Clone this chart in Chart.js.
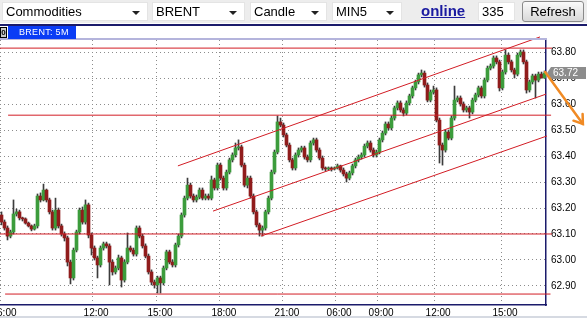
<!DOCTYPE html>
<html><head><meta charset="utf-8">
<script src="https://cdn.jsdelivr.net/npm/chart.js@4.4.1/dist/chart.umd.min.js"></script>
<style>
html,body{margin:0;padding:0;background:#fff;}
#wrap{position:relative;width:587px;height:318px;overflow:hidden;font-family:"Liberation Sans",Arial,sans-serif;}
#c{position:absolute;left:0;top:0;}
#tb{position:absolute;left:0;top:0;width:587px;height:23px;background:#ededed;}
.sel{position:absolute;top:2px;height:19px;box-sizing:border-box;background:#fff;border:1px solid #e4e4e4;font-size:13px;line-height:17px;padding-left:3px;color:#000;}
.sel i{position:absolute;right:7px;top:8px;width:0;height:0;border-left:4px solid transparent;border-right:4px solid transparent;border-top:4px solid #222;}
#online{position:absolute;left:421px;top:1px;font-size:15px;font-weight:bold;color:#1a1aa0;text-decoration:underline;line-height:19px;}
#ref{position:absolute;left:522px;top:1px;width:62px;height:21px;box-sizing:border-box;border:1px solid #8a8a8a;border-radius:3px;background:linear-gradient(#fafafa,#d8d8d8);font-size:13px;line-height:19px;text-align:center;color:#000;}
#hline{position:absolute;left:0;top:24px;width:587px;height:2px;background:#1b1b6b;}
#zero{position:absolute;left:0;top:27px;width:7px;height:11px;background:#c8c8c8;border:1px solid #000;box-sizing:border-box;font-size:8px;line-height:9px;text-align:center;font-weight:bold;}
#lab{position:absolute;left:8px;top:26px;width:68px;height:13px;background:#0a3cf5;color:#fff;font-size:9px;line-height:13px;padding-left:11px;box-sizing:border-box;letter-spacing:0.3px;}
#strip{position:absolute;left:0;top:316px;width:587px;height:2px;background:#d6dae2;}
</style>
</head><body>
<div id="wrap">
<canvas id="c" width="587" height="318"></canvas>
<div id="tb">
  <div class="sel" style="left:2px;width:146px">Commodities<i></i></div>
  <div class="sel" style="left:152px;width:93px">BRENT<i></i></div>
  <div class="sel" style="left:250px;width:77px">Candle<i></i></div>
  <div class="sel" style="left:332px;width:70px">MIN5<i></i></div>
  <span id="online">online</span>
  <div class="sel" style="left:478px;width:37px">335</div>
  <div id="ref">Refresh</div>
</div>
<div id="hline"></div>
<div id="zero">0</div>
<div id="lab">BRENT: 5M</div>
<div id="strip"></div>
</div>
<script>
// ---- data (prices) ----
const opens = [
63.173,63.146,63.123,63.092,63.108,63.177,63.185,63.162,63.158,63.142,
63.131,63.119,63.131,63.246,63.231,63.269,63.231,63.185,63.123,63.192,
63.131,63.100,63.085,62.992,62.931,63.038,63.108,63.192,63.146,63.212,
63.096,63.046,63.008,62.981,63.046,63.062,63.054,62.992,62.954,62.969,
63.008,62.923,62.992,63.046,63.038,63.023,63.123,63.092,63.054,63.015,
62.954,62.915,62.904,62.931,62.912,62.969,63.031,62.992,62.981,63.058,
63.092,63.173,63.238,63.288,63.246,63.231,63.242,63.269,63.238,63.246,
63.238,63.308,63.277,63.365,63.315,63.277,63.338,63.385,63.404,63.431,
63.435,63.365,63.288,63.315,63.246,63.185,63.135,63.115,63.123,63.185,
63.238,63.338,63.415,63.531,63.519,63.481,63.442,63.385,63.354,63.404,
63.423,63.431,63.396,63.385,63.450,63.462,63.423,63.392,63.354,63.350,
63.354,63.350,63.354,63.362,63.346,63.331,63.315,63.335,63.362,63.385,
63.396,63.404,63.438,63.450,63.423,63.404,63.415,63.462,63.488,63.523,
63.508,63.546,63.585,63.604,63.577,63.565,63.604,63.631,63.662,63.685,
63.712,63.719,63.673,63.615,63.646,63.654,63.538,63.442,63.423,63.492,
63.469,63.546,63.615,63.623,63.600,63.577,63.585,63.569,63.615,63.635,
63.662,63.631,63.692,63.738,63.746,63.777,63.762,63.662,63.723,63.788,
63.762,63.731,63.715,63.788,63.800,63.762,63.654,63.685,63.708,63.692,
63.715,63.700];
const closes = [
63.146,63.123,63.092,63.108,63.177,63.185,63.162,63.158,63.142,63.131,
63.119,63.131,63.246,63.231,63.269,63.231,63.185,63.123,63.192,63.131,
63.100,63.085,62.992,62.931,63.038,63.108,63.192,63.146,63.212,63.096,
63.046,63.008,62.981,63.046,63.062,63.054,62.992,62.954,62.969,63.008,
62.923,62.992,63.046,63.038,63.023,63.123,63.092,63.054,63.015,62.954,
62.915,62.904,62.931,62.912,62.969,63.031,62.992,62.981,63.058,63.092,
63.173,63.238,63.288,63.246,63.231,63.242,63.269,63.238,63.246,63.238,
63.308,63.277,63.365,63.315,63.277,63.338,63.385,63.404,63.431,63.435,
63.365,63.288,63.315,63.246,63.185,63.135,63.115,63.123,63.185,63.238,
63.338,63.415,63.531,63.519,63.481,63.442,63.385,63.354,63.404,63.423,
63.431,63.396,63.385,63.450,63.462,63.423,63.392,63.354,63.350,63.354,
63.350,63.354,63.362,63.346,63.331,63.315,63.335,63.362,63.385,63.396,
63.404,63.438,63.450,63.423,63.404,63.415,63.462,63.488,63.523,63.508,
63.546,63.585,63.604,63.577,63.565,63.604,63.631,63.662,63.685,63.712,
63.719,63.673,63.615,63.646,63.654,63.538,63.442,63.423,63.492,63.469,
63.546,63.615,63.623,63.600,63.577,63.585,63.569,63.615,63.635,63.662,
63.631,63.692,63.738,63.746,63.777,63.762,63.662,63.723,63.788,63.762,
63.731,63.715,63.788,63.800,63.762,63.654,63.685,63.708,63.692,63.715,
63.700,63.719];
const highs = [
63.185,63.154,63.131,63.115,63.231,63.196,63.192,63.165,63.162,63.146,
63.135,63.138,63.254,63.258,63.292,63.273,63.238,63.192,63.238,63.200,
63.138,63.108,63.092,63.000,63.046,63.115,63.200,63.204,63.231,63.219,
63.104,63.054,63.015,63.054,63.069,63.069,63.062,63.000,62.977,63.019,
63.015,63.000,63.104,63.054,63.046,63.131,63.131,63.100,63.062,63.023,
62.962,62.923,62.938,62.938,62.977,63.038,63.038,63.000,63.065,63.100,
63.181,63.246,63.315,63.296,63.254,63.250,63.277,63.277,63.254,63.254,
63.323,63.315,63.373,63.373,63.323,63.346,63.392,63.412,63.450,63.462,
63.442,63.373,63.323,63.323,63.254,63.192,63.142,63.131,63.192,63.246,
63.346,63.423,63.554,63.546,63.527,63.488,63.450,63.392,63.412,63.431,
63.438,63.438,63.404,63.458,63.469,63.469,63.431,63.400,63.358,63.358,
63.358,63.358,63.369,63.365,63.354,63.338,63.342,63.369,63.392,63.404,
63.412,63.446,63.458,63.458,63.431,63.423,63.469,63.496,63.531,63.531,
63.554,63.592,63.612,63.612,63.585,63.612,63.638,63.669,63.692,63.719,
63.731,63.727,63.681,63.654,63.669,63.662,63.546,63.450,63.500,63.500,
63.554,63.669,63.631,63.631,63.608,63.592,63.592,63.623,63.642,63.669,
63.669,63.700,63.746,63.754,63.785,63.785,63.769,63.731,63.808,63.796,
63.769,63.738,63.796,63.808,63.808,63.769,63.692,63.715,63.715,63.723,
63.723,63.727];
const lows = [
63.135,63.115,63.077,63.085,63.100,63.169,63.154,63.150,63.138,63.127,
63.112,63.115,63.123,63.223,63.227,63.223,63.177,63.115,63.115,63.123,
63.092,63.073,62.977,62.908,62.923,63.031,63.100,63.138,63.138,63.085,
63.019,63.000,62.931,62.973,63.038,63.046,62.904,62.942,62.946,62.962,
62.896,62.915,62.985,63.031,63.015,63.015,63.085,63.046,63.008,62.946,
62.904,62.892,62.873,62.873,62.904,62.962,62.985,62.973,62.973,63.050,
63.085,63.165,63.231,63.238,63.223,63.223,63.235,63.231,63.231,63.231,
63.231,63.269,63.269,63.308,63.269,63.269,63.331,63.377,63.396,63.423,
63.358,63.281,63.277,63.238,63.177,63.127,63.092,63.092,63.115,63.177,
63.231,63.331,63.408,63.512,63.473,63.435,63.377,63.346,63.346,63.396,
63.415,63.388,63.377,63.377,63.442,63.415,63.385,63.346,63.342,63.346,
63.342,63.346,63.350,63.338,63.323,63.300,63.308,63.327,63.354,63.377,
63.388,63.396,63.431,63.415,63.396,63.396,63.408,63.454,63.481,63.500,
63.500,63.538,63.577,63.569,63.554,63.558,63.596,63.623,63.654,63.677,
63.704,63.665,63.608,63.608,63.638,63.531,63.373,63.365,63.415,63.462,
63.462,63.538,63.608,63.592,63.569,63.569,63.546,63.562,63.608,63.627,
63.623,63.623,63.685,63.731,63.738,63.754,63.650,63.654,63.715,63.754,
63.723,63.700,63.708,63.781,63.754,63.642,63.646,63.677,63.623,63.685,
63.700,63.700];
const lastPrice = 63.72;
const priceTicks = [62.90,63.00,63.10,63.20,63.30,63.40,63.50,63.60,63.70,63.80];
const timeLabels = ['06:00','12:00','15:00','18:00','21:00','06:00','09:00','12:00','15:00'];
const timeTickBars = [-0.5,30.2,51.5,72.8,93.8,111.2,125.2,144.2,166.5];
// horizontal support / resistance levels
const levelPrices = [63.815,63.557,63.10,62.869];
const levelFromBar = [-0.5,2.2,-0.5,1.2];
const levelToBar = [183.5,183.2,183.5,183.0];
// rising channel lines
const channelFromBar = [58.8,70.5,86.5];
const channelFromPrice = [63.362,63.188,63.092];
const channelToBar = [179.5,181.5,181.8];
const channelToPrice = [63.858,63.638,63.477];
// forecast arrow
const arrowFromBar = 181.2, arrowFromPrice = 63.723;
const arrowToBar = 193.8, arrowToPrice = 63.523;

// ---- chart ----
const GREEN = '#3c9c3c', RED = '#901c1c';
const isUp = i => closes[i] >= opens[i];
const datasets = [];
levelPrices.forEach((p, k) => datasets.push({
  type:'line', data:[{x:levelFromBar[k], y:p},{x:levelToBar[k], y:p}],
  borderColor:'#d21c24', borderWidth:1, pointRadius:0, clip:false, order:0
}));
channelFromBar.forEach((b, k) => datasets.push({
  type:'line', data:[{x:b, y:channelFromPrice[k]},{x:channelToBar[k], y:channelToPrice[k]}],
  borderColor:'#d21c24', borderWidth:1, pointRadius:0, clip:false, order:0
}));
datasets.push({
  type:'bar', data: closes.map((c, i) => ({x:i, y:[opens[i], c]})),
  backgroundColor: ctx => isUp(ctx.dataIndex) ? GREEN : RED,
  borderWidth: 0, borderSkipped:false, barThickness:3, grouped:false, order:1
});
datasets.push({
  type:'bar', data: closes.map((c, i) => ({x:i, y:[lows[i], highs[i]]})),
  backgroundColor:'#3c3c3c', borderWidth:0, barThickness:1, grouped:false, order:2
});

const extras = {
  id:'extras',
  afterDatasetsDraw(chart){
    const {ctx, scales:{x, y}, chartArea:a} = chart;
    ctx.save();
    ctx.strokeStyle = '#b4b4dc'; ctx.lineWidth = 2;
    ctx.beginPath(); ctx.moveTo(0, a.top - 1); ctx.lineTo(a.right + 1, a.top - 1); ctx.stroke();
    // current price tag
    const py = Math.round(y.getPixelForValue(lastPrice));
    const bx = a.right + 1;
    ctx.fillStyle = '#8c8c8c';
    ctx.beginPath();
    ctx.moveTo(bx, py); ctx.lineTo(bx + 4, py - 6); ctx.lineTo(bx + 39, py - 6);
    ctx.lineTo(bx + 39, py + 6); ctx.lineTo(bx + 4, py + 6); ctx.closePath(); ctx.fill();
    ctx.fillStyle = '#ffffff'; ctx.font = '10px "Liberation Sans", Arial'; ctx.textBaseline = 'middle';
    ctx.fillText(lastPrice.toFixed(2), bx + 6, py + 0.5);
    // arrow
    const x1 = x.getPixelForValue(arrowFromBar), y1 = y.getPixelForValue(arrowFromPrice);
    const x2 = x.getPixelForValue(arrowToBar), y2 = y.getPixelForValue(arrowToPrice);
    ctx.strokeStyle = '#f08a24'; ctx.lineWidth = 2.5; ctx.lineCap = 'round';
    ctx.beginPath(); ctx.moveTo(x1, y1); ctx.lineTo(x2, y2); ctx.stroke();
    const ang = Math.atan2(y1 - y2, x1 - x2), L = 10, sp = 0.6;
    ctx.beginPath();
    ctx.moveTo(x2 + L * Math.cos(ang - sp), y2 + L * Math.sin(ang - sp));
    ctx.lineTo(x2, y2);
    ctx.lineTo(x2 + L * Math.cos(ang + sp), y2 + L * Math.sin(ang + sp));
    ctx.stroke();
    ctx.restore();
  }
};

new Chart(document.getElementById('c'), {
  type:'bar',
  data:{datasets},
  options:{
    responsive:false, animation:false, devicePixelRatio:1,
    layout:{padding:{top:40, left:0, right:0, bottom:0}},
    plugins:{legend:{display:false}, tooltip:{enabled:false}},
    scales:{
      x:{
        type:'linear', min:-0.5, max:181.5, offset:false,
        grid:{offset:false, color:'#8c8c8c', lineWidth:1, drawTicks:false},
        border:{display:true, color:'#1b1b6b', width:1.5, dash:[1,3]},
        afterBuildTicks: s => { s.ticks = timeTickBars.map(v => ({value:v})); },
        afterFit: s => { s.height = 13; s.paddingLeft = 0; s.paddingRight = 0; },
        ticks:{autoSkip:false, maxRotation:0, minRotation:0, padding:2, labelOffset:4,
          color:'#000', font:{family:'"Liberation Sans", Arial', size:10},
          callback:(v, i) => timeLabels[i]}
      },
      y:{
        type:'linear', position:'right', min:62.8269, max:63.8462,
        grid:{color:'#8c8c8c', lineWidth:1, drawTicks:false},
        border:{display:true, color:'#1b1b6b', width:1.5, dash:[1,3]},
        afterBuildTicks: s => { s.ticks = priceTicks.map(v => ({value:v})); },
        afterFit: s => { s.width = 41; s.paddingTop = 0; s.paddingBottom = 0; },
        ticks:{padding:5, color:'#000', font:{family:'"Liberation Sans", Arial', size:10},
          callback: v => v.toFixed(2)}
      }
    }
  },
  plugins:[extras]
});
</script>
</body></html>
